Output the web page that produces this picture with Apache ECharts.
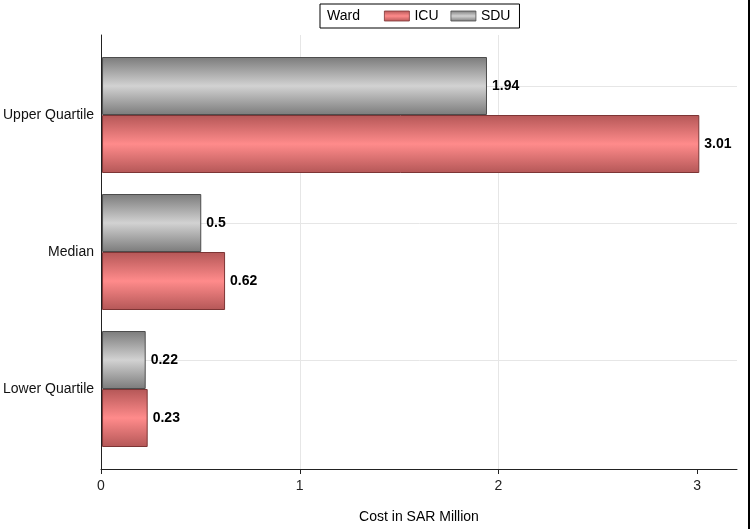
<!DOCTYPE html>
<html>
<head>
<meta charset="utf-8">
<script src="https://cdn.jsdelivr.net/npm/echarts@6/dist/echarts.min.js"></script>
<style>html,body{margin:0;padding:0;background:#fff}#chart{width:750px;height:529px}</style>
</head>
<body>
<div id="chart"></div>
<script>
var categories = ['Lower Quartile', 'Median', 'Upper Quartile'];
var icuValues = [0.23, 0.62, 3.01];
var sduValues = [0.22, 0.5, 1.94];
var xTicks = [0, 1, 2, 3];
var seriesNames = ['ICU', 'SDU'];

var chart = echarts.init(document.getElementById('chart'), null, {renderer: 'canvas'});
var FONT = 'Liberation Sans, Arial, sans-serif';

function grad(edge, mid) {
  return new echarts.graphic.LinearGradient(0, 0, 0, 1, [
    {offset: 0, color: edge},
    {offset: 0.5, color: mid},
    {offset: 1, color: edge}
  ]);
}
var icuStyle = {color: grad('#b45757', '#ff8b8b'), borderColor: '#7d3535', borderWidth: 1};
var sduStyle = {color: grad('#7b7b7b', '#d2d2d2'), borderColor: '#4d4d4d', borderWidth: 1};
var labelStyle = {show: true, position: 'right', distance: 5, color: '#000', fontWeight: 'bold', fontSize: 14, fontFamily: FONT};

var option = {
  backgroundColor: '#fff',
  animation: false,
  textStyle: {fontFamily: FONT},
  grid: [
    {left: 101, right: 13, top: 35, bottom: 60, containLabel: false},
    {left: 101, right: 13, top: 46.5, bottom: 71.5, containLabel: false}
  ],
  legend: {
    data: seriesNames,
    left: 320, top: 4,
    padding: [5, 9, 5, 64],
    itemWidth: 25, itemHeight: 10, itemGap: 12,
    borderColor: '#000', borderWidth: 1, backgroundColor: '#fff',
    textStyle: {fontSize: 14, color: '#000', fontFamily: FONT},
    itemStyle: {borderWidth: 0.8},
    icon: 'rect'
  },
  graphic: [
    {type: 'text', left: 327, top: 9, z: 100, zlevel: 1, style: {text: 'Ward', fontSize: 14, fill: '#000', fontFamily: FONT}},
    {type: 'rect', shape: {x: 748, y: 0, width: 2, height: 529}, style: {fill: '#000'}}
  ],
  xAxis: [
    {
      gridIndex: 0, type: 'value', min: 0, max: 3.2, interval: 1,
      name: 'Cost in SAR Million', nameLocation: 'middle', nameGap: 41,
      nameTextStyle: {fontSize: 14, color: '#000', fontFamily: FONT},
      axisLine: {show: true, lineStyle: {color: '#222', width: 1}},
      axisTick: {show: true, length: 5, lineStyle: {color: '#222'}, customValues: xTicks},
      axisLabel: {show: true, color: '#222', fontSize: 14, margin: 10, fontFamily: FONT, customValues: xTicks},
      splitLine: {show: true, showMinLine: false, showMaxLine: false, lineStyle: {color: '#e6e6e6', width: 1}}
    },
    {gridIndex: 1, type: 'value', min: 0, max: 3.2, show: false}
  ],
  yAxis: [
    {
      gridIndex: 0, type: 'value', min: 0, max: 1,
      axisLine: {show: true, onZero: false, lineStyle: {color: '#222', width: 1}},
      axisTick: {show: false}, axisLabel: {show: false}, splitLine: {show: false}
    },
    {
      gridIndex: 1, type: 'category', data: categories,
      axisLine: {show: false}, axisTick: {show: false},
      axisLabel: {show: true, color: '#111', fontSize: 14, margin: 8, fontFamily: FONT},
      splitLine: {show: false}
    }
  ],
  series: [
    {
      name: 'SDU', type: 'bar', xAxisIndex: 1, yAxisIndex: 1,
      data: sduValues, barWidth: 58, barGap: '0%',
      itemStyle: sduStyle, label: labelStyle,
      markLine: {
        silent: true, symbol: 'none', z: 0,
        label: {show: false},
        lineStyle: {color: '#e6e6e6', type: 'solid', width: 1},
        data: categories.map(function (c) { return {yAxis: c}; })
      }
    },
    {
      name: 'ICU', type: 'bar', xAxisIndex: 1, yAxisIndex: 1,
      data: icuValues, barWidth: 58, barGap: '0%',
      itemStyle: icuStyle, label: labelStyle
    }
  ]
};
chart.setOption(option);
</script>
</body>
</html>
